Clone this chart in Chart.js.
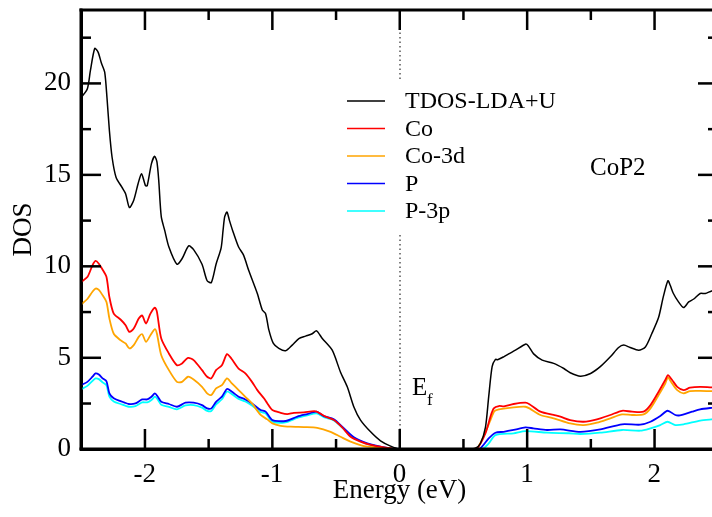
<!DOCTYPE html>
<html>
<head>
<meta charset="utf-8">
<script src="https://cdn.jsdelivr.net/npm/chart.js@4.4.1/dist/chart.umd.min.js"></script>
<style>
html,body{margin:0;padding:0;background:#fff;overflow:hidden;}
#wrap{position:relative;width:760px;height:517px;}
</style>
</head>
<body>
<div id="wrap"><canvas id="dosChart"></canvas></div>
<script>
// series labels + colours
var seriesNames = ["TDOS-LDA+U","Co","Co-3d","P","P-3p"];
var seriesColors = ["#000000","#ff0000","#ffa500","#0000ff","#00ffff"];

// axis ticks
var xTicks = [-2,-1,0,1,2];
var yTicks = [0,5,10,15,20];

// TDOS
var tdosE = [-2.5,-2.45,-2.426,-2.392,-2.366,-2.34,-2.314,-2.296,-2.277,-2.256,-2.225,-2.178,-2.15,-2.12,-2.086,-2.052,-2.025,-1.994,-1.98,-1.947,-1.922,-1.904,-1.89,-1.87,-1.843,-1.81,-1.747,-1.707,-1.655,-1.616,-1.55,-1.51,-1.477,-1.44,-1.40,-1.385,-1.372,-1.354,-1.335,-1.31,-1.263,-1.224,-1.184,-1.116,-1.077,-1.051,-1.025,-0.99,-0.947,-0.894,-0.842,-0.79,-0.737,-0.685,-0.651,-0.606,-0.528,-0.463,-0.41,-0.358,-0.306,-0.227,-0.149,-0.07,0,0.55,0.596,0.635,0.675,0.70,0.727,0.753,0.77,0.818,0.857,0.91,0.988,1.01,1.053,1.12,1.21,1.29,1.34,1.42,1.50,1.576,1.655,1.72,1.76,1.81,1.877,1.93,1.98,2.034,2.07,2.107,2.125,2.15,2.19,2.23,2.27,2.31,2.36,2.40,2.45,2.5];
var tdosV = [19.2,19.7,20.7,21.9,21.7,21.1,20.6,19.2,17.4,15.95,14.86,14.3,13.96,13.2,13.6,14.5,15.05,14.4,14.4,15.6,16.0,15.7,14.7,12.7,11.95,11.04,10.1,10.4,11.1,10.9,10.1,9.2,9.1,10.1,11.0,11.95,12.7,12.95,12.5,11.95,11.04,10.6,9.77,8.5,7.6,7.4,6.5,5.77,5.5,5.37,5.68,6.04,6.17,6.3,6.46,6.04,5.4,4.2,3.4,2.3,1.58,0.94,0.45,0.16,0,0,0.04,0.3,1.2,2.85,4.5,4.9,4.88,5.04,5.2,5.4,5.73,5.65,5.2,4.86,4.68,4.4,4.17,3.98,4.13,4.5,5.04,5.55,5.68,5.55,5.4,5.58,6.3,7.2,8.3,9.2,8.95,8.5,8.04,7.73,8.04,8.2,8.5,8.5,8.64,8.7];

// Co
var coE = [-2.5,-2.45,-2.41,-2.386,-2.36,-2.33,-2.30,-2.277,-2.243,-2.19,-2.15,-2.12,-2.086,-2.047,-2.02,-1.99,-1.955,-1.92,-1.904,-1.87,-1.81,-1.747,-1.707,-1.66,-1.616,-1.55,-1.51,-1.477,-1.44,-1.394,-1.354,-1.32,-1.263,-1.21,-1.158,-1.116,-1.064,-1.038,-0.998,-0.933,-0.881,-0.829,-0.75,-0.659,-0.58,-0.515,-0.45,-0.384,-0.306,-0.227,-0.12,0,0.55,0.61,0.675,0.714,0.74,0.78,0.82,0.896,0.988,1.02,1.106,1.21,1.263,1.34,1.445,1.55,1.655,1.747,1.825,1.916,1.97,2.034,2.086,2.107,2.14,2.18,2.23,2.28,2.36,2.45,2.5];
var coV = [9.13,9.4,10.04,10.28,10.13,9.8,9.4,8.3,7.4,7.08,6.77,6.4,6.59,7.13,7.3,6.86,7.4,7.73,7.5,6.04,5.22,4.58,4.68,4.98,4.86,4.31,3.95,3.86,4.31,4.58,5.19,4.95,4.4,4.13,3.67,3.22,2.77,2.5,2.13,1.98,1.91,1.98,2.0,2.06,1.77,1.58,1.18,0.67,0.4,0.22,0.09,0,0,0.04,0.86,1.77,2.22,2.35,2.33,2.46,2.53,2.45,2.04,1.86,1.77,1.58,1.49,1.62,1.86,2.09,2.04,2.04,2.4,3.13,3.77,4.04,3.77,3.4,3.22,3.35,3.4,3.37,3.37];

// Co-3d
var co3dE = [-2.5,-2.45,-2.41,-2.386,-2.36,-2.33,-2.30,-2.277,-2.243,-2.19,-2.15,-2.12,-2.086,-2.047,-2.02,-1.99,-1.955,-1.92,-1.904,-1.87,-1.81,-1.747,-1.707,-1.66,-1.616,-1.55,-1.51,-1.477,-1.44,-1.394,-1.354,-1.32,-1.263,-1.21,-1.158,-1.09,-1.038,-0.998,-0.933,-0.855,-0.75,-0.646,-0.541,-0.463,-0.384,-0.28,-0.175,0,0.55,0.61,0.682,0.714,0.745,0.78,0.896,0.988,1.02,1.106,1.21,1.34,1.445,1.55,1.655,1.747,1.825,1.916,1.97,2.034,2.086,2.107,2.14,2.18,2.23,2.28,2.36,2.45,2.5];
var co3dV = [7.9,8.2,8.6,8.77,8.7,8.4,8.04,7.13,6.3,5.95,5.77,5.5,5.68,6.13,6.28,5.86,6.22,6.55,6.3,5.13,4.31,3.67,3.67,3.95,3.8,3.4,3.04,2.95,3.31,3.49,3.86,3.62,3.22,2.85,2.49,1.86,1.62,1.4,1.27,1.22,1.2,1.16,0.94,0.67,0.4,0.16,0.09,0,0,0.04,1.04,1.58,2.07,2.17,2.28,2.31,2.22,1.86,1.68,1.4,1.31,1.44,1.68,1.89,1.86,1.89,2.22,2.95,3.58,3.91,3.58,3.22,3.04,3.17,3.18,3.16,3.16];

// P
var pE = [-2.5,-2.45,-2.41,-2.386,-2.36,-2.33,-2.30,-2.277,-2.243,-2.19,-2.125,-2.073,-2.02,-1.98,-1.947,-1.92,-1.897,-1.87,-1.81,-1.747,-1.68,-1.616,-1.55,-1.51,-1.477,-1.44,-1.394,-1.354,-1.315,-1.263,-1.21,-1.158,-1.09,-1.051,-0.998,-0.894,-0.802,-0.724,-0.651,-0.594,-0.515,-0.45,-0.358,-0.253,-0.12,0,0.58,0.635,0.70,0.753,0.818,0.896,0.988,1.05,1.158,1.263,1.42,1.576,1.747,1.89,1.97,2.047,2.104,2.165,2.2,2.296,2.36,2.45,2.5];
var pV = [3.49,3.67,3.95,4.13,4.07,3.86,3.7,3.04,2.77,2.62,2.46,2.49,2.71,2.71,2.86,3.04,2.86,2.58,2.46,2.31,2.53,2.53,2.4,2.22,2.22,2.58,2.86,3.28,3.13,2.86,2.71,2.49,2.13,2.04,1.58,1.53,1.77,1.91,2.04,1.8,1.62,1.22,0.64,0.31,0.09,0,0,0.04,0.58,0.89,0.94,1.04,1.18,1.13,1.04,1.07,0.94,1.07,1.35,1.33,1.49,1.8,2.09,1.86,1.84,2.04,2.17,2.25,2.28];

// P-3p
var p3pE = [-2.5,-2.45,-2.41,-2.386,-2.36,-2.33,-2.30,-2.277,-2.243,-2.19,-2.125,-2.073,-2.02,-1.98,-1.947,-1.92,-1.897,-1.87,-1.81,-1.747,-1.68,-1.616,-1.55,-1.51,-1.477,-1.44,-1.394,-1.354,-1.315,-1.263,-1.21,-1.158,-1.09,-1.051,-0.998,-0.894,-0.802,-0.724,-0.651,-0.594,-0.515,-0.45,-0.358,-0.253,-0.12,0,0.6,0.66,0.70,0.753,0.896,0.988,1.158,1.33,1.42,1.576,1.747,1.89,1.97,2.047,2.104,2.165,2.23,2.36,2.45,2.5];
var p3pV = [3.26,3.45,3.72,3.86,3.82,3.64,3.48,2.86,2.6,2.46,2.31,2.34,2.55,2.55,2.68,2.86,2.7,2.42,2.3,2.17,2.38,2.4,2.26,2.08,2.08,2.44,2.72,3.14,3.0,2.74,2.6,2.38,2.02,1.95,1.5,1.46,1.7,1.84,1.95,1.74,1.56,1.17,0.6,0.28,0.08,0,0,0.04,0.3,0.76,0.86,0.98,0.89,0.86,0.82,0.89,1.04,1.0,1.13,1.31,1.49,1.31,1.35,1.55,1.62,1.65];

var seriesE = [tdosE,coE,co3dE,pE,p3pE];
var seriesV = [tdosV,coV,co3dV,pV,p3pV];

function pts(xs,ys){
  var out=[];
  for(var i=0;i<xs.length;i++) out.push({x:xs[i],y:ys[i]});
  return out;
}

var datasets = [];
for(var i=0;i<seriesNames.length;i++){
  datasets.push({
    label:seriesNames[i],
    data:pts(seriesE[i],seriesV[i]),
    borderColor:seriesColors[i],
    backgroundColor:seriesColors[i],
    borderWidth:i==0?1.5:1.8,
    pointRadius:0,
    tension:0.25,
    fill:false
  });
}

var SERIF = "'Liberation Serif','DejaVu Serif',serif";

// dotted Ef line, legend and notes
var decor = {
  id:"decor",
  beforeDatasetsDraw:function(chart){
    var ctx=chart.ctx, a=chart.chartArea, xs=chart.scales.x;
    var x0=xs.getPixelForValue(0);
    ctx.save();
    ctx.strokeStyle="#000";
    ctx.lineWidth=1;
    ctx.setLineDash([1.5,3]);
    ctx.beginPath();
    ctx.moveTo(x0+0.5,a.top);
    ctx.lineTo(x0+0.5,a.bottom);
    ctx.stroke();
    ctx.setLineDash([]);
    // legend box hides the dotted line
    ctx.fillStyle="#fff";
    ctx.fillRect(340,82,200,153);
    ctx.restore();
  },
  afterDraw:function(chart){
    var ctx=chart.ctx, a=chart.chartArea, xs=chart.scales.x, ys=chart.scales.y;
    ctx.save();
    // inward ticks and box
    var L=a.left, R=a.right, T=a.top, B=a.bottom;
    var v, px, len;
    ctx.fillStyle="rgb(0,0,0)";
    for(v=-2.5; v<=2.5001; v+=0.5){
      px=xs.getPixelForValue(v);
      len=(Math.abs(v-Math.round(v))<0.01)?20:10;
      ctx.fillRect(px-1,B-len,2.5,len);
      ctx.fillRect(px-1,T,2.5,len);
    }
    for(v=0; v<=24.001; v+=2.5){
      px=ys.getPixelForValue(v);
      len=((v%5)<0.01)?20:10;
      ctx.fillRect(L,px-1,len,2.5);
      ctx.fillRect(R-len,px-1,len,2.5);
    }
    ctx.fillRect(L-1.5,T-1.5,R-L+3,3);
    ctx.fillRect(L-1.5,B-1.5,R-L+3,3);
    ctx.fillRect(L-1.5,T-1.5,3,B-T+3);
    ctx.fillRect(R-1.5,T-1.5,3,B-T+3);

    // legend
    var lx=347, rowY=101, gap=27.5;
    ctx.font="24px "+SERIF;
    ctx.textBaseline="middle";
    ctx.textAlign="left";
    chart.data.datasets.forEach(function(ds,k){
      var y=rowY+k*gap;
      ctx.strokeStyle=ds.borderColor;
      ctx.lineWidth=1.5;
      ctx.beginPath();
      ctx.moveTo(lx,y); ctx.lineTo(lx+38,y);
      ctx.stroke();
      ctx.fillStyle="#000";
      ctx.fillText(ds.label,405,y+1);
    });

    // notes
    ctx.textBaseline="alphabetic";
    ctx.fillStyle="#000";
    ctx.font="25px "+SERIF;
    ctx.fillText("CoP2",590,175);
    ctx.fillText("E",412,395);
    ctx.font="17px "+SERIF;
    ctx.fillText("f",427,405);
    ctx.restore();
  }
};

new Chart(document.getElementById("dosChart"),{
  type:"line",
  data:{datasets:datasets},
  options:{
    responsive:true,
    maintainAspectRatio:false,
    animation:false,
    layout:{padding:{top:10,right:42,left:0,bottom:0}},
    plugins:{legend:{display:false},tooltip:{enabled:false}},
    scales:{
      x:{
        type:"linear",
        min:-2.5,max:2.5,
        grid:{display:false,drawTicks:false},
        border:{display:true,color:"#000",width:3},
        afterFit:function(s){s.height=68;s.paddingLeft=0;s.paddingRight=0;},
        afterBuildTicks:function(s){s.ticks=xTicks.map(function(t){return {value:t};});},
        ticks:{color:"#000",padding:10,font:{family:SERIF,size:27},maxRotation:0},
        title:{display:true,text:"Energy (eV)",color:"#000",font:{family:SERIF,size:27},padding:{bottom:10}}
      },
      y:{
        type:"linear",
        min:0,max:24,
        grid:{display:false,drawTicks:false},
        border:{display:true,color:"#000",width:3},
        afterFit:function(s){s.width=81;s.paddingTop=0;s.paddingBottom=0;},
        afterBuildTicks:function(s){s.ticks=yTicks.map(function(t){return {value:t};});},
        ticks:{color:"#000",padding:10,font:{family:SERIF,size:27}},
        title:{display:true,text:"DOS",color:"#000",font:{family:SERIF,size:27},padding:{top:8}}
      }
    }
  },
  plugins:[decor]
});
</script>
</body>
</html>
